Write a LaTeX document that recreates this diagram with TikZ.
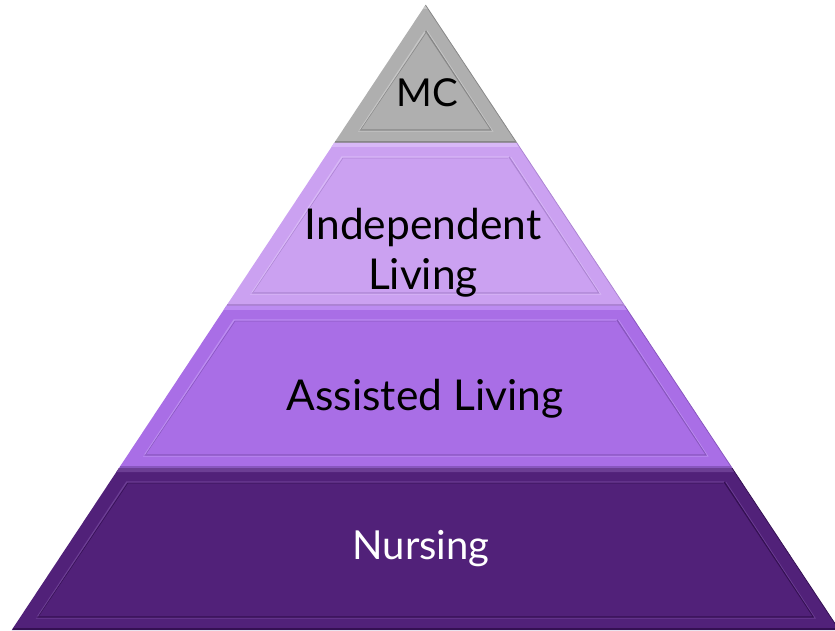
\documentclass[tikz,border=0pt]{standalone}
\usepackage{fontspec}
\setmainfont{Lato}
\definecolor{mcfill}{RGB}{175,175,175}
\definecolor{mclight}{RGB}{198,198,198}
\definecolor{mcdark}{RGB}{135,135,135}
\definecolor{ilfill}{RGB}{203,161,241}
\definecolor{illight}{RGB}{216,184,247}
\definecolor{ildark}{RGB}{172,132,210}
\definecolor{alfill}{RGB}{169,110,230}
\definecolor{allight}{RGB}{188,140,241}
\definecolor{aldark}{RGB}{136,86,190}
\definecolor{nfill}{RGB}{81,33,121}
\definecolor{nlight}{RGB}{108,62,148}
\definecolor{ndark}{RGB}{52,16,82}
\newcommand{\pyrlevel}[3]{%
  \pgfmathsetmacro\ytA{630-#1}%
  \pgfmathsetmacro\ybA{630-#2}%
  \pgfmathsetmacro\htA{0.662*(#1-5)}%
  \pgfmathsetmacro\hbA{0.662*(#2-5)}%
  \pgfmathsetmacro\iyt{max(#1+14,5+17/0.662)}%
  \pgfmathsetmacro\iyb{#2-13}%
  \pgfmathsetmacro\ihtA{0.662*(\iyt-5)-17}%
  \pgfmathsetmacro\ihbA{0.662*(\iyb-5)-17}%
  \pgfmathsetmacro\iytT{630-\iyt}%
  \pgfmathsetmacro\iybT{630-\iyb}%
  \fill[#3fill] (425.5-\htA,\ytA) -- (425.5+\htA,\ytA) -- (425.5+\hbA,\ybA) -- (425.5-\hbA,\ybA) -- cycle;
  \fill[#3light] (425.5-\htA,\ytA) -- (425.5+\htA,\ytA) -- (425.5+\htA+2.6,\ytA-4) -- (425.5-\htA-2.6,\ytA-4) -- cycle;
  \draw[#3dark,line width=1.2pt] (425.5-\hbA+1,\ybA+1) -- (425.5+\hbA-1,\ybA+1);
  \draw[#3dark,line width=0.8pt] (425.5+\htA,\ytA) -- (425.5+\hbA,\ybA);
  \draw[#3light,line width=1.3pt] (425.5-\ihbA,\iybT) -- (425.5-\ihtA,\iytT) -- (425.5+\ihtA,\iytT);
  \draw[#3dark,line width=1.3pt] (425.5+\ihtA,\iytT) -- (425.5+\ihbA,\iybT) -- (425.5-\ihbA,\iybT);
  \draw[#3dark,line width=0.5pt] (425.5-\ihbA+1.5,\iybT+1.2) -- (425.5-\ihtA+1,\iytT-1.2) -- (425.5+\ihtA-1,\iytT-1.2);
  \draw[#3light,line width=0.7pt] (425.5+\ihtA+1.6,\iytT) -- (425.5+\ihbA+1.6,\iybT-1.2) -- (425.5-\ihbA-1.6,\iybT-1.2);
}
\begin{document}
\begin{tikzpicture}[x=1pt,y=1pt,
  lbl/.style={font=\fontsize{42.5}{50}\selectfont, align=center, inner sep=0pt, anchor=base}]
\useasboundingbox (0,0) rectangle (835,630);
\pyrlevel{5}{143}{mc}
\pyrlevel{143}{306}{il}
\pyrlevel{306}{468}{al}
\pyrlevel{468}{630}{n}
\node[lbl, text=black, font=\fontsize{38.5}{45}\selectfont] (mc) at (427,630-107) {MC};
\node[lbl, text=black] (il) at (423,630-290) {Independent\\Living};
\node[lbl, text=black] (al) at (425,630-410) {Assisted Living};
\node[lbl, text=white, font=\fontsize{40}{48}\selectfont] (nu) at (421,630-559) {Nursing};
\end{tikzpicture}
\end{document}
